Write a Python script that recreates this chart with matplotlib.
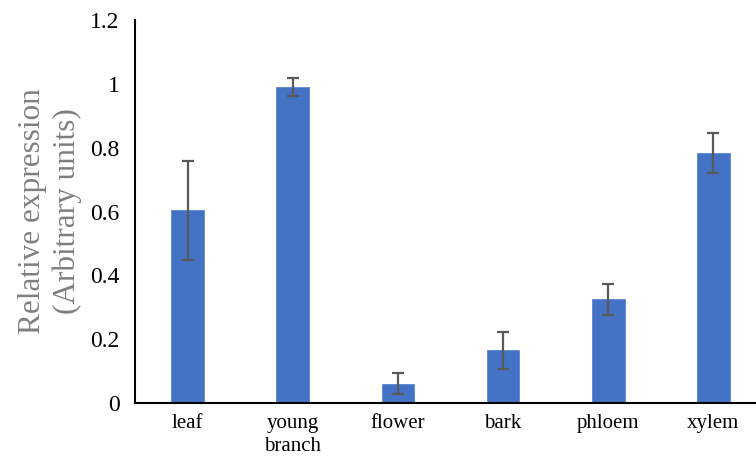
import numpy as np
import matplotlib.pyplot as plt

# data
tissues = ['leaf', 'young\nbranch', 'flower', 'bark', 'phloem', 'xylem']
expression = [0.604, 0.990, 0.061, 0.165, 0.325, 0.783]
errors = [0.155, 0.028, 0.033, 0.057, 0.049, 0.062]

plt.rcParams['font.family'] = ['Liberation Serif', 'DejaVu Serif']

x = np.arange(len(tissues))

fig = plt.figure(figsize=(7.56, 4.67), dpi=100)
ax = fig.add_axes([135 / 756, 64 / 467, 631 / 756, 383 / 467])

ax.bar(x, expression, width=0.31, color='#4472C4', edgecolor='#5b86d6', linewidth=0.6,
       yerr=errors, error_kw=dict(ecolor='#595959', elinewidth=1.6, capsize=4, capthick=1.6))

ax.set_xlim(-0.5, 5.5)
ax.set_ylim(0, 1.2)
ax.set_yticks([0, 0.2, 0.4, 0.6, 0.8, 1.0, 1.2])
ax.set_yticklabels(['0', '0.2', '0.4', '0.6', '0.8', '1', '1.2'])
ax.set_xticks(x)
ax.set_xticklabels(tissues, linespacing=1.25)
ax.tick_params(axis='both', length=0, colors='black')
ax.tick_params(axis='y', pad=11, labelsize=17)
ax.tick_params(axis='x', pad=8, labelsize=15)

for side in ['top', 'right']:
    ax.spines[side].set_visible(False)
for side in ['left', 'bottom']:
    ax.spines[side].set_linewidth(1.5)
    ax.spines[side].set_color('black')

ax.set_ylabel('Relative expression\n(Arbitrary units)', fontsize=22.5, color='#7f7f7f',
              linespacing=1.25, labelpad=6)

fig.savefig('out.png', dpi=100)
